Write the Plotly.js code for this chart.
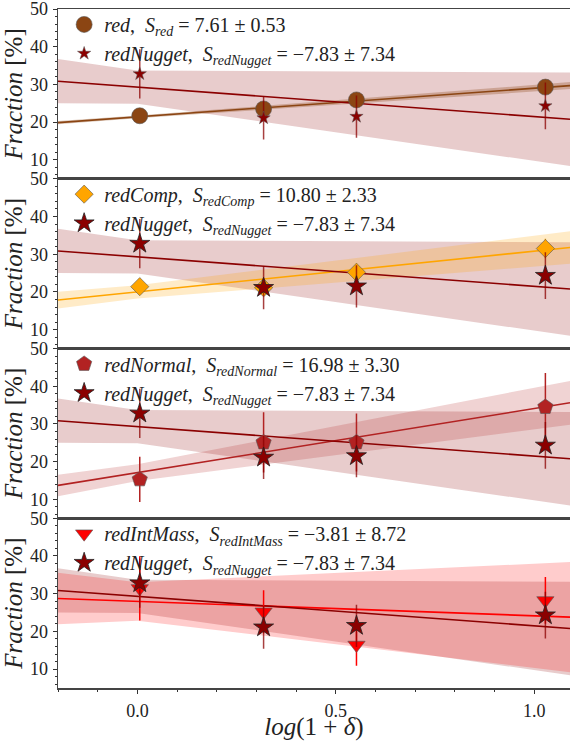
<!DOCTYPE html>
<html>
<head>
<meta charset="utf-8">
<script src="https://cdn.plot.ly/plotly-3.0.1.min.js"></script>
<style>html,body{margin:0;padding:0;background:#fff;}#chart{width:571px;height:741px;}</style>
</head>
<body>
<div id="chart"></div>
<script>
// ---- data ----
const xPos = [0.006, 0.318, 0.552, 1.028];
const xRange = [-0.2, 1.09];

const nuggetY = [32.8, 21.1, 21.5, 24.3];
const nuggetErr = [6.5, 5.7, 5.6, 6.2];
const nuggetSlope = -7.83, nuggetSlopeErr = 7.34;
const nuggetIntercept = 29.3, nuggetInterceptErr = 4.4;

const sampleNames = ["red", "redComp", "redNormal", "redIntMass"];
const sampleY = [
  [21.7, 23.5, 25.9, 29.3],
  [21.4, 21.1, 25.2, 31.5],
  [15.3, 25.1, 25.1, 34.5],
  [31.4, 25.2, 16.4, 28.2]
];
const sampleErr = [
  [0.8, 0.8, 0.8, 0.8],
  [2.0, 2.2, 2.4, 2.6],
  [6.0, 8.0, 7.7, 9.0],
  [8.5, 5.7, 5.5, 6.2]
];
const sampleSlope = [7.61, 10.80, 16.98, -3.81];
const sampleSlopeErr = [0.53, 2.33, 3.30, 8.72];
const sampleIntercept = [21.4, 20.0, 17.1, 27.95];
const sampleInterceptErr = [0.35, 1.75, 2.2, 5.1];

// ---- styles ----
const sampleColor = ["#8B4513", "#FFA500", "#B22222", "#FF0000"];
const sampleBand = ["rgba(139,69,19,0.3)", "rgba(255,165,0,0.22)", "rgba(178,34,34,0.2)", "rgba(255,0,0,0.2)"];
const sampleSymbol = ["circle", "diamond", "pentagon", "triangle-down"];
const sampleSize = [16, 14, 16, 15];
const nuggetSize = [10, 15, 15, 15];
const nuggetColor = "#8B0000";
const nuggetBand = "rgba(139,0,0,0.2)";

function fmt(v){ return (v < 0 ? "\u2212" + Math.abs(v).toFixed(2) : v.toFixed(2)); }
function label(name, s, e){
  return "<i>" + name + "</i>,&nbsp; <i>S</i><sub><i>" + name + "</i></sub> = " + fmt(s) + " \u00b1 " + e.toFixed(2);
}
function fitLine(a, b){ return {x: [xRange[0], xRange[1]], y: [a + b*xRange[0], a + b*xRange[1]]}; }
function fitBand(a, da, b, db){
  const xs = [xRange[0], 0, xRange[1]];
  const up = xs.map(x => a + da + Math.max((b-db)*x, (b+db)*x));
  const lo = xs.map(x => a - da + Math.min((b-db)*x, (b+db)*x));
  return {x: xs.concat(xs.slice().reverse()), y: up.concat(lo.slice().reverse())};
}

const traces = [];
const nPanels = 4;
for (let i = 0; i < nPanels; i++) {
  const xa = "x" + (i === 0 ? "" : (i+1));
  const ya = "y" + (i === 0 ? "" : (i+1));
  const lg = "legend" + (i === 0 ? "" : (i+1));
  const bn = fitBand(nuggetIntercept, nuggetInterceptErr, nuggetSlope, nuggetSlopeErr);
  traces.push({x: bn.x, y: bn.y, xaxis: xa, yaxis: ya, mode: "lines", fill: "toself",
    fillcolor: nuggetBand, line: {width: 0}, showlegend: false, hoverinfo: "skip"});
  const bs = fitBand(sampleIntercept[i], sampleInterceptErr[i], sampleSlope[i], sampleSlopeErr[i]);
  traces.push({x: bs.x, y: bs.y, xaxis: xa, yaxis: ya, mode: "lines", fill: "toself",
    fillcolor: sampleBand[i], line: {width: 0}, showlegend: false, hoverinfo: "skip"});
  const ls = fitLine(sampleIntercept[i], sampleSlope[i]);
  traces.push({x: ls.x, y: ls.y, xaxis: xa, yaxis: ya, mode: "lines",
    line: {color: sampleColor[i], width: 1.6}, showlegend: false});
  const ln = fitLine(nuggetIntercept, nuggetSlope);
  traces.push({x: ln.x, y: ln.y, xaxis: xa, yaxis: ya, mode: "lines",
    line: {color: nuggetColor, width: 1.6}, showlegend: false});
  traces.push({x: xPos, y: sampleY[i], xaxis: xa, yaxis: ya, mode: "markers",
    name: label(sampleNames[i], sampleSlope[i], sampleSlopeErr[i]), legend: lg, legendgroup: "s"+i,
    marker: {symbol: sampleSymbol[i], size: sampleSize[i], color: sampleColor[i],
             line: {color: "#555", width: 0.6}},
    error_y: {type: "data", array: sampleErr[i], visible: true, width: 0, thickness: 1.5, color: sampleColor[i]}});
  traces.push({x: xPos, y: nuggetY, xaxis: xa, yaxis: ya, mode: "markers",
    name: label("redNugget", nuggetSlope, nuggetSlopeErr), legend: lg, legendgroup: "n"+i,
    marker: {symbol: "star", size: nuggetSize[i], color: nuggetColor,
             line: {color: i === 0 ? "#555" : "#222", width: i === 0 ? 0.5 : 0.8}},
    error_y: {type: "data", array: nuggetErr, visible: true, width: 0, thickness: 1.5, color: "rgba(139,0,0,0.75)"}});
}

const ff = "Liberation Serif";
const font = {family: ff, color: "#222"};
const layout = {
  width: 571, height: 741,
  margin: {l: 58, r: 1, t: 9, b: 53},
  paper_bgcolor: "#fff", plot_bgcolor: "#fff",
  font: Object.assign({size: 18}, font),
  showlegend: true
};
const panelH = 0.25;
for (let i = 0; i < nPanels; i++) {
  const suf = i === 0 ? "" : String(i+1);
  const top = 1 - i*panelH, bot = 1 - (i+1)*panelH;
  layout["yaxis" + suf] = {
    domain: [bot, top], range: [5, 50], anchor: "x" + suf,
    tickvals: [10, 20, 30, 40, 50], ticks: "outside", ticklen: 4, tickwidth: 1, tickcolor: "#333",
    minor: {dtick: 2, ticks: "outside", ticklen: 2, tickwidth: 1, tickcolor: "#333"},
    showgrid: false, zeroline: false, showline: true, linecolor: "#444", linewidth: 1.5, mirror: false,
    tickfont: Object.assign({size: 18}, font), ticklabelstandoff: 1, ticklabeloverflow: "allow",
    title: {text: "<i>Fraction</i> [%]", font: Object.assign({size: 25}, font), standoff: 3},
    automargin: false
  };
  const isBottom = i === nPanels - 1;
  layout["xaxis" + suf] = {
    domain: [0, 1], range: xRange, anchor: "y" + suf,
    matches: i === 0 ? undefined : "x",
    showgrid: false, zeroline: false, showline: true, linecolor: "#444", linewidth: 1.5, mirror: true,
    showticklabels: isBottom,
    tickvals: [0, 0.5, 1.0], ticktext: ["0.0", "0.5", "1.0"],
    ticks: isBottom ? "outside" : "", ticklen: 4, tickwidth: 1, tickcolor: "#333",
    minor: isBottom ? {dtick: 0.1, tick0: 0, ticks: "outside", ticklen: 2, tickwidth: 1, tickcolor: "#333"} : {ticks: ""},
    tickfont: Object.assign({size: 18}, font), ticklabelstandoff: 2, ticklabeloverflow: "allow",
    title: isBottom ? {text: "<i>log</i>(1 + <i>\u03b4</i>)", font: Object.assign({size: 25}, font), standoff: 3} : {text: ""},
    automargin: false
  };
  layout["legend" + suf] = {
    x: 0.012, xanchor: "left", y: top + 0.006, yanchor: "top",
    bgcolor: "rgba(0,0,0,0)", borderwidth: 0,
    font: Object.assign({size: 20}, font),
    tracegroupgap: 0, itemsizing: "trace", traceorder: "normal"
  };
}

Plotly.newPlot("chart", traces, layout, {staticPlot: true, displayModeBar: false});
</script>
</body>
</html>
